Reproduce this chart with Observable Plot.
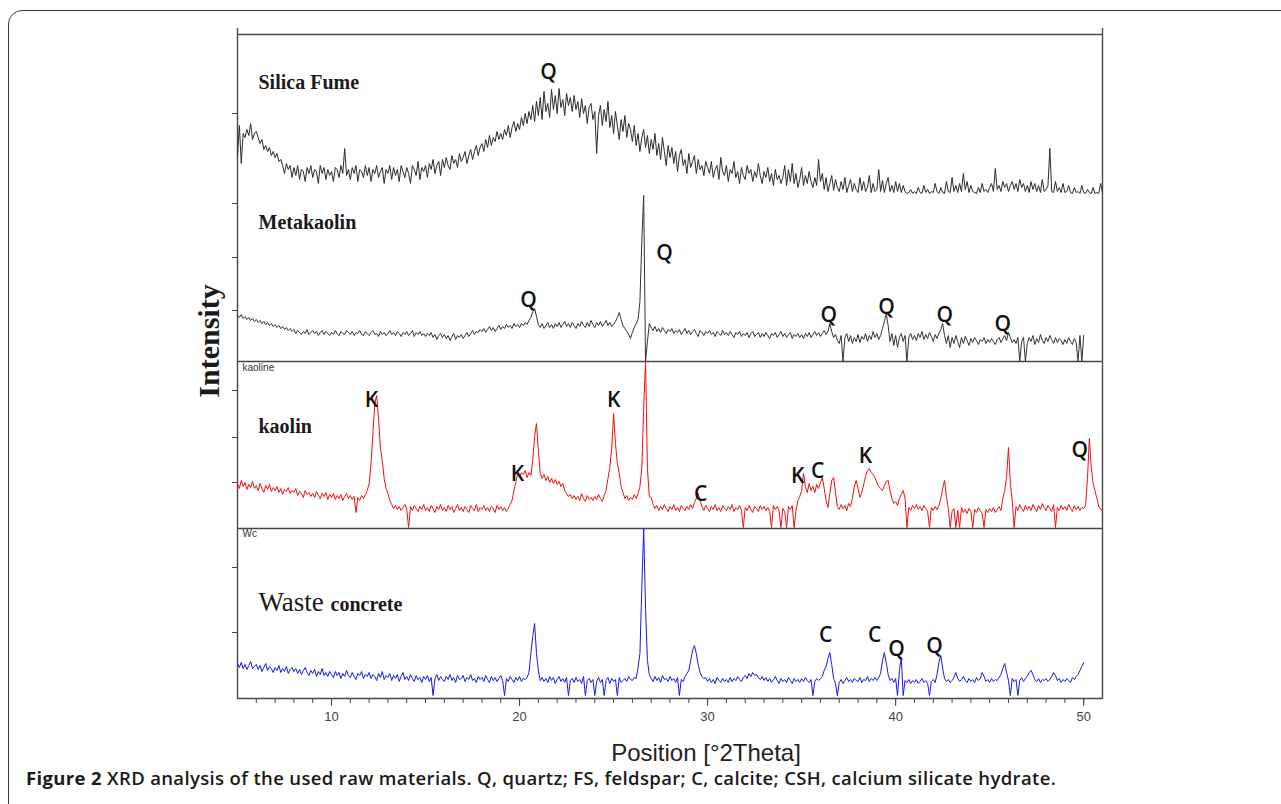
<!DOCTYPE html>
<html><head><meta charset="utf-8">
<script src="https://cdn.jsdelivr.net/npm/d3@7"></script>
<script src="https://cdn.jsdelivr.net/npm/@observablehq/plot@0.6"></script>
<style>
body{margin:0;background:#fff;}
#wrap{position:relative;width:1281px;height:804px;overflow:hidden;background:#fff;}
#box{position:absolute;left:8px;top:10px;width:1300px;height:830px;border:1.3px solid #3a3a3a;border-radius:14px;box-sizing:border-box;}
.panel{position:absolute;left:0;width:1281px;}
.panel svg{overflow:visible;}
#ylab{position:absolute;left:209px;top:341px;transform:translate(-50%,-50%) rotate(-90deg);font-family:"Liberation Serif",serif;font-weight:bold;font-size:30px;color:#1a1a1a;white-space:nowrap;}
#caption{position:absolute;left:26px;top:765px;font-family:"Open Sans",sans-serif;font-size:18.5px;letter-spacing:0.35px;font-weight:600;color:#1a1a1a;white-space:nowrap;}
#caption b{font-weight:700;}
</style></head><body>
<div id="wrap">
<div id="box"></div>
<div id="p1" class="panel" style="top:34px"></div>
<div id="p2" class="panel" style="top:195px"></div>
<div id="p3" class="panel" style="top:361px"></div>
<div id="p4" class="panel" style="top:528px"></div>
<div id="ylab">Intensity</div>
<div id="caption"><b>Figure 2</b> XRD analysis of the used raw materials. Q, quartz; FS, feldspar; C, calcite; CSH, calcium silicate hydrate.</div>
</div>
<script>
// 2θ grid: start 5.0°, step 0.1°
const thetaStart = 5.0, thetaStep = 0.1;

// Intensities (arbitrary counts), one value per 0.1° step
const silicaFume = [
40,70,32,62,58,66,60,72,56,62,
64,58,52,56,46,50,44,48,40,44,
38,42,34,36,30,22,32,26,30,18,
28,20,30,16,26,24,14,28,22,30,
18,26,24,12,30,22,28,16,26,20,
24,14,28,26,18,30,22,47,20,26,
16,28,22,30,14,26,24,18,30,20,
28,14,26,22,30,18,24,28,12,26,
22,30,16,28,20,26,14,30,24,18,
28,22,12,30,26,20,34,16,28,24,
30,18,32,26,36,22,30,34,20,36,
28,38,30,26,40,32,36,28,42,34,
38,44,32,40,46,36,44,50,40,48,
52,44,56,48,60,50,58,54,64,56,
62,56,66,60,70,58,68,74,64,72,
66,78,70,82,72,84,76,90,74,94,
80,98,76,104,84,92,78,106,86,100,
82,107,88,96,80,102,90,98,84,100,
86,94,78,97,82,90,72,88,92,76,
84,42,80,90,70,86,74,94,68,80,
62,84,70,56,76,64,80,58,72,66,
54,70,50,62,44,58,66,48,60,42,
56,46,62,40,52,36,58,44,30,50,
38,48,32,44,24,40,46,30,36,22,
42,28,34,40,22,36,26,30,20,34,
28,22,34,18,26,30,16,38,24,20,
30,14,26,22,34,18,24,12,28,20,
16,30,22,26,14,24,18,32,20,12,
24,18,28,14,22,10,26,16,20,12,
18,30,10,26,14,32,12,22,8,16,
28,10,20,12,24,14,8,18,10,36,
14,22,6,18,4,12,20,5,16,8,
4,14,6,18,3,10,16,4,12,6,
3,18,5,14,4,8,20,3,12,4,
6,26,4,15,3,12,18,4,10,3,
14,4,12,3,10,4,2,3,6,2,
4,2,8,3,2,10,3,6,2,4,
3,12,4,2,8,3,2,14,4,3,
18,4,10,3,12,4,22,6,14,3,
10,4,3,2,8,3,12,4,6,3,
8,12,4,27,6,10,4,14,8,12,
4,10,14,6,12,4,16,8,12,4,
10,3,14,6,12,4,10,3,16,4,
6,10,47,4,3,14,4,8,3,12,
3,4,10,3,2,8,3,4,2,10,
3,2,6,3,2,8,2,3,2,12,
3];

const metakaolin = [
46,44,47,43,45,42,44,41,43,40,
42,39,41,38,40,37,39,36,38,35,
37,34,36,33,35,32,34,31,33,30,
32,28,31,29,27,30,28,32,27,29,
31,28,30,26,29,31,27,30,28,26,
29,27,31,28,26,30,28,27,31,29,
27,30,26,29,28,31,27,26,30,28,
26,29,31,27,28,25,30,27,29,26,
28,31,27,29,26,30,28,25,29,27,
30,26,28,31,25,29,27,30,26,28,
25,28,26,29,24,27,22,26,28,24,
27,23,26,21,25,28,22,26,24,27,
23,26,29,25,28,31,27,30,29,32,
30,33,29,32,35,31,34,30,33,36,
32,35,33,37,34,36,33,38,35,37,
34,38,36,39,37,41,44,50,53,45,
37,34,38,33,36,39,34,37,33,38,
35,39,34,37,40,35,38,34,39,36,
33,38,35,40,36,34,39,35,41,37,
34,39,36,40,35,38,41,36,39,35,
37,40,44,49,42,36,33,30,27,23,
29,34,38,42,60,120,166,0,20,38,
34,31,35,30,33,29,34,31,28,32,
30,33,28,31,29,32,27,30,33,28,
31,27,30,32,28,25,31,29,26,30,
28,31,27,29,25,30,28,26,31,27,
29,26,30,27,24,29,27,30,25,28,
26,29,24,28,30,25,27,29,24,28,
25,29,26,23,28,26,29,24,27,30,
25,28,24,27,29,23,27,25,28,24,
27,23,28,25,29,24,27,30,26,29,
25,28,31,27,30,38,30,24,27,21,
18,26,0,24,28,20,26,18,24,20,
27,19,25,22,28,20,26,22,30,24,
28,22,26,33,40,48,36,20,28,16,
26,14,24,28,20,26,0,24,28,22,
26,21,28,24,30,22,27,23,29,25,
20,27,23,28,32,38,26,18,26,14,
24,18,26,20,14,24,18,25,21,16,
23,19,24,21,17,22,20,24,18,22,
19,23,20,17,22,24,19,23,26,21,
29,24,19,22,18,24,0,20,24,0,
18,24,20,26,17,23,19,27,21,18,
24,20,26,22,18,24,19,23,21,17,
22,18,24,20,17,23,19,0,26,0,
26];

const kaolin = [
45,40,48,42,46,39,44,41,47,40,
43,38,45,40,36,43,39,44,37,41,
38,42,36,40,34,39,37,41,35,38,
36,40,33,37,35,31,38,34,36,32,
35,31,37,33,30,35,32,36,29,34,
31,35,29,33,30,34,28,32,35,30,
33,29,32,16,31,28,33,30,34,38,
45,65,95,125,133,110,80,68,50,40,
35,28,24,20,23,19,22,18,21,24,
19,1,22,18,23,20,17,22,19,24,
18,21,17,23,20,16,22,19,24,18,
21,17,23,19,22,16,20,24,18,21,
17,22,19,16,23,20,18,24,17,21,
19,23,18,21,17,22,20,16,23,19,
22,18,21,17,20,24,28,38,46,55,
52,56,54,58,51,56,53,68,92,105,
78,55,50,54,48,52,46,50,45,49,
44,47,42,45,38,35,32,34,30,33,
29,32,28,35,30,27,33,29,31,28,
32,29,34,30,27,33,38,50,61,80,
115,85,65,55,42,36,30,33,28,31,
29,34,30,35,42,60,120,167,60,32,
31,24,20,23,18,22,19,24,20,17,
22,19,24,18,21,17,23,20,18,22,
19,24,20,26,30,35,28,22,18,23,
20,17,22,19,24,18,21,17,23,20,
18,22,19,24,17,21,19,23,18,1,
21,18,23,19,16,22,20,17,23,19,
22,18,21,17,1,23,19,22,18,1,
20,17,1,22,19,23,1,18,28,32,
38,55,42,36,45,38,42,36,44,40,
46,51,40,28,21,35,48,51,36,22,
19,24,20,23,18,25,22,30,42,48,
40,31,36,44,52,58,60,56,54,51,
46,42,40,38,43,47,48,38,30,25,
27,23,30,34,38,30,1,21,18,23,
20,24,19,22,18,23,20,17,1,21,
18,22,19,23,30,40,48,32,20,1,
17,20,1,18,1,21,16,19,15,20,
17,1,19,16,21,18,15,1,19,16,
20,17,21,16,19,22,18,30,38,52,
81,45,28,1,22,18,24,20,17,23,
19,22,18,24,20,17,23,19,25,21,
18,23,20,17,24,1,21,18,23,19,
22,18,24,20,17,23,19,22,18,21,
20,23,50,90,62,45,38,30,22,19,
18];

const wasteConcrete = [
35,31,36,30,34,29,33,37,30,32,
34,29,33,27,31,35,28,32,30,26,
31,28,33,26,30,27,32,25,29,31,
27,30,25,29,24,28,31,26,23,28,
25,29,22,27,24,30,23,26,22,27,
24,21,27,23,26,20,25,22,28,23,
21,26,22,19,25,23,27,20,24,22,
26,20,24,22,18,25,21,27,19,23,
21,25,18,23,20,24,17,22,26,19,
22,18,24,20,17,23,19,21,16,22,
19,23,17,21,3,20,24,18,22,19,
17,22,19,24,18,21,16,23,19,20,
23,17,21,19,24,18,20,16,22,19,
21,17,23,19,16,22,18,21,17,20,
23,18,3,20,17,22,19,16,21,18,
22,17,20,19,21,26,45,62,75,45,
28,18,21,17,20,16,22,18,21,15,
19,22,17,20,16,21,3,18,20,16,
21,17,19,15,22,3,18,20,16,19,
3,17,21,16,19,3,18,21,15,20,
17,19,3,21,16,18,20,17,22,19,
18,21,20,31,45,110,170,90,38,24,
20,17,22,18,21,16,23,19,20,17,
22,18,20,16,21,3,19,17,22,25,
28,38,48,53,45,34,26,22,20,21,
17,20,16,19,15,21,18,16,20,17,
19,16,21,17,20,18,22,19,17,21,
23,20,25,22,26,23,24,21,19,22,
18,21,17,20,16,19,22,18,15,20,
17,19,16,21,18,15,20,17,19,16,
20,17,21,18,16,19,3,17,20,18,
20,22,28,32,40,46,34,20,15,3,
16,19,15,18,21,17,19,16,20,18,
17,21,16,19,18,22,17,20,18,21,
18,21,25,38,46,36,24,18,20,16,
20,3,28,41,3,18,16,19,15,18,
16,19,15,17,20,16,18,15,3,17,
19,16,24,36,43,30,20,17,19,16,
18,21,26,20,17,19,22,18,16,20,
17,19,16,21,18,20,26,22,17,19,
16,20,17,19,18,21,24,30,35,26,
18,3,20,17,19,3,18,21,17,20,
22,26,28,24,19,17,20,16,19,18,
20,17,19,22,26,23,18,20,16,19,
17,20,18,16,21,19,22,24,28,32,
36];

// Phase labels: Q quartz, K kaolinite, C calcite (2θ, intensity)
const silicaLabels = [{t: "Q", theta: 21.54, counts: 117}];
const metakaolinLabels = [
  {t: "Q", theta: 20.48, counts: 55}, {t: "Q", theta: 27.71, counts: 102},
  {t: "Q", theta: 36.44, counts: 40}, {t: "Q", theta: 39.52, counts: 48},
  {t: "Q", theta: 42.61, counts: 40}, {t: "Q", theta: 45.69, counts: 31}];
const kaolinLabels = [
  {t: "K", theta: 12.13, counts: 122}, {t: "K", theta: 19.89, counts: 48},
  {t: "K", theta: 25.0, counts: 122}, {t: "C", theta: 29.63, counts: 28},
  {t: "K", theta: 34.79, counts: 46}, {t: "C", theta: 35.85, counts: 51},
  {t: "K", theta: 38.4, counts: 66}, {t: "Q", theta: 49.79, counts: 72}];
const wasteLabels = [
  {t: "C", theta: 36.28, counts: 57}, {t: "C", theta: 38.88, counts: 57},
  {t: "Q", theta: 40.05, counts: 43}, {t: "Q", theta: 42.07, counts: 46}];

// Axis ticks
const majorTicks = [10, 20, 30, 40, 50];
const minorTicks = d3.range(6, 51);
const silicaYTicks = [82];
const metakaolinYTicks = [51, 104, 158];
const kaolinYTicks = [46, 91, 138];
const wasteYTicks = [66, 131];

const rows = (vals) => vals.map((v, i) => ({theta: Math.round((thetaStart + i * thetaStep) * 10) / 10, counts: v}));

const FRAME = "#474747";
const serif = "Liberation Serif, Times New Roman, serif";
const sans = "Open Sans, sans-serif";

function peakText(data) {
  return Plot.text(data, {x: "theta", y: "counts", text: "t", lineAnchor: "bottom", fontFamily: sans, fontSize: 21, fontWeight: 600, fill: "#111"});
}
function nameText(txt, dx, dy, size, weight) {
  return Plot.text([txt], {frameAnchor: "top-left", textAnchor: "start", lineAnchor: "bottom", dx, dy, fontFamily: serif, fontSize: size, fontWeight: weight, fill: "#1a1a1a"});
}
function smallText(txt, dx, dy) {
  return Plot.text([txt], {frameAnchor: "top-left", textAnchor: "start", lineAnchor: "top", dx, dy, fontFamily: "Liberation Sans, Arial, sans-serif", fontSize: 10, fill: "#333"});
}
function yTicks(ticks) {
  return Plot.axisY(ticks, {anchor: "left", label: null, tickSize: 5, tickFormat: () => "", stroke: FRAME});
}

function panel(id, ymax, marks, marginBottom = 0) {
  const chart = Plot.plot({
    width: 1281, height: ymax + marginBottom,
    marginLeft: 237, marginRight: 179, marginTop: 0, marginBottom,
    x: {domain: [5, 51], axis: null, label: null},
    y: {domain: [0, ymax], axis: null, label: null},
    style: {background: "transparent", overflow: "visible"},
    marks
  });
  document.getElementById(id).appendChild(chart);
}

panel("p1", 161, [
  Plot.ruleY([161], {stroke: FRAME, strokeWidth: 1.4}),
  Plot.ruleX([5, 51], {y1: 0, y2: 167, stroke: FRAME, strokeWidth: 1.4}),
  yTicks(silicaYTicks),
  Plot.lineY(rows(silicaFume), {x: "theta", y: "counts", stroke: "#2b2b2b", strokeWidth: 1}),
  nameText("Silica Fume", 21, 54, 20, "bold"),
  peakText(silicaLabels)
]);

panel("p2", 166, [
  Plot.ruleY([0], {stroke: FRAME, strokeWidth: 1.4}),
  Plot.ruleX([5, 51], {stroke: FRAME, strokeWidth: 1.4}),
  yTicks(metakaolinYTicks),
  Plot.lineY(rows(metakaolin), {x: "theta", y: "counts", stroke: "#333", strokeWidth: 1}),
  nameText("Metakaolin", 21, 33, 20, "bold"),
  peakText(metakaolinLabels)
]);

panel("p3", 167, [
  Plot.ruleY([0], {stroke: FRAME, strokeWidth: 1.4}),
  Plot.ruleX([5, 51], {stroke: FRAME, strokeWidth: 1.4}),
  yTicks(kaolinYTicks),
  Plot.lineY(rows(kaolin), {x: "theta", y: "counts", stroke: "#f01010", strokeWidth: 1}),
  smallText("kaoline", 5, 2),
  nameText("kaolin", 21, 71, 20, "bold"),
  peakText(kaolinLabels)
]);

panel("p4", 170, [
  Plot.ruleY([0], {stroke: FRAME, strokeWidth: 1.4}),
  Plot.ruleX([5, 51], {y1: -1, y2: 170, stroke: FRAME, strokeWidth: 1.4}),
  yTicks(wasteYTicks),
  Plot.axisX(minorTicks, {anchor: "bottom", label: null, tickSize: 5, tickFormat: () => "", stroke: FRAME}),
  Plot.axisX(majorTicks, {anchor: "bottom", label: null, tickSize: 8, tickPadding: 5, tickFormat: d => String(d), stroke: FRAME, fill: "#444", fontSize: 13, fontFamily: "Liberation Sans, Arial, sans-serif"}),
  Plot.text(["Position [°2Theta]"], {frameAnchor: "bottom", dx: 36, dy: 62, lineAnchor: "bottom", fontFamily: "Liberation Sans, Arial, sans-serif", fontSize: 24, fill: "#222"}),
  Plot.lineY(rows(wasteConcrete), {x: "theta", y: "counts", stroke: "#1818e0", strokeWidth: 1}),
  smallText("Wc", 5, 1),
  nameText("Waste", 21, 82, 27, "normal"),
  nameText("concrete", 93, 82, 20, "bold"),
  peakText(wasteLabels)
], 70);
</script>
</body></html>
